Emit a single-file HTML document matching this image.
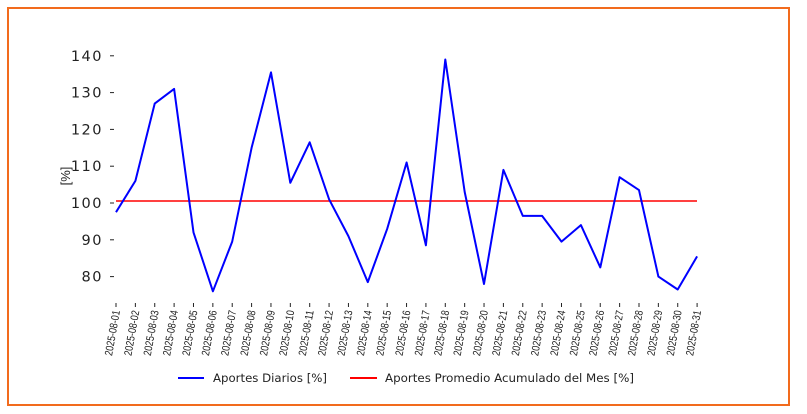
<!DOCTYPE html>
<html><head><style>
body{margin:0;background:#fff;}
svg{display:block;font-family:"Liberation Sans","DejaVu Sans",sans-serif;}
</style></head><body>
<svg width="807" height="414" viewBox="0 0 807 414" xmlns="http://www.w3.org/2000/svg">
<rect x="8" y="8" width="781" height="397" fill="#fff" stroke="#f26b1d" stroke-width="2"/>
<g id="yt" font-size="14.5" fill="#222" text-anchor="end" font-family="DejaVu Sans,sans-serif" letter-spacing="1.5">
</g>
<text x="70" y="176" font-size="13" fill="#222" transform="rotate(-90 70 176)" text-anchor="middle">[%]</text>
<g id="xt"></g>
<polyline id="avg" fill="none" stroke="#ff0000" stroke-width="1.5" points="116,201 697,201"/>
<polyline id="ser" fill="none" stroke="#0000ff" stroke-width="2" stroke-linejoin="round"/>
<line x1="178" y1="378" x2="204" y2="378" stroke="#0000ff" stroke-width="2"/>
<text x="213" y="382" font-size="11.5" fill="#222" font-family="DejaVu Sans,sans-serif" textLength="114" lengthAdjust="spacingAndGlyphs">Aportes Diarios [%]</text>
<line x1="350" y1="378" x2="377" y2="378" stroke="#ff0000" stroke-width="2"/>
<text x="385" y="382" font-size="11.5" fill="#222" font-family="DejaVu Sans,sans-serif" textLength="249" lengthAdjust="spacingAndGlyphs">Aportes Promedio Acumulado del Mes [%]</text>
</svg>
<script>
var ns="http://www.w3.org/2000/svg";
var v=[97.5,106,127,131,92,76,89.5,115,135.5,105.5,116.5,101,91,78.5,93,111,88.5,139,103,78,109,96.5,96.5,89.5,94,82.5,107,103.5,80,76.5,85.5];
function Y(a){return 203-(a-100)*3.68;}
var pts=v.map(function(a,i){return (116+i*19.37).toFixed(1)+","+Y(a).toFixed(1);}).join(" ");
document.getElementById("ser").setAttribute("points",pts);
var yt=document.getElementById("yt");
for(var t=80;t<=140;t+=10){
 var tx=document.createElementNS(ns,"text");tx.setAttribute("x","103");tx.setAttribute("y",(Y(t)+5).toFixed(1));tx.textContent=t;yt.appendChild(tx);
 var l=document.createElementNS(ns,"line");l.setAttribute("x1","110");l.setAttribute("x2","114");l.setAttribute("y1",Y(t));l.setAttribute("y2",Y(t));l.setAttribute("stroke","#222");yt.appendChild(l);
}
var xt=document.getElementById("xt");
for(var i=0;i<31;i++){
 var x=116+i*19.37;
 var l=document.createElementNS(ns,"line");l.setAttribute("x1",x);l.setAttribute("x2",x);l.setAttribute("y1","303");l.setAttribute("y2","307");l.setAttribute("stroke","#222");xt.appendChild(l);
 var tx=document.createElementNS(ns,"text");var d=("0"+(i+1)).slice(-2);
 tx.setAttribute("x",x+4);tx.setAttribute("y","311");tx.setAttribute("font-size","11");tx.setAttribute("fill","#222");
 tx.setAttribute("text-anchor","end");tx.setAttribute("textLength","46");tx.setAttribute("lengthAdjust","spacingAndGlyphs");
 tx.setAttribute("transform","rotate(-80 "+(x+4)+" 311)");tx.textContent="2025-08-"+d;xt.appendChild(tx);
}
</script>
</body></html>
